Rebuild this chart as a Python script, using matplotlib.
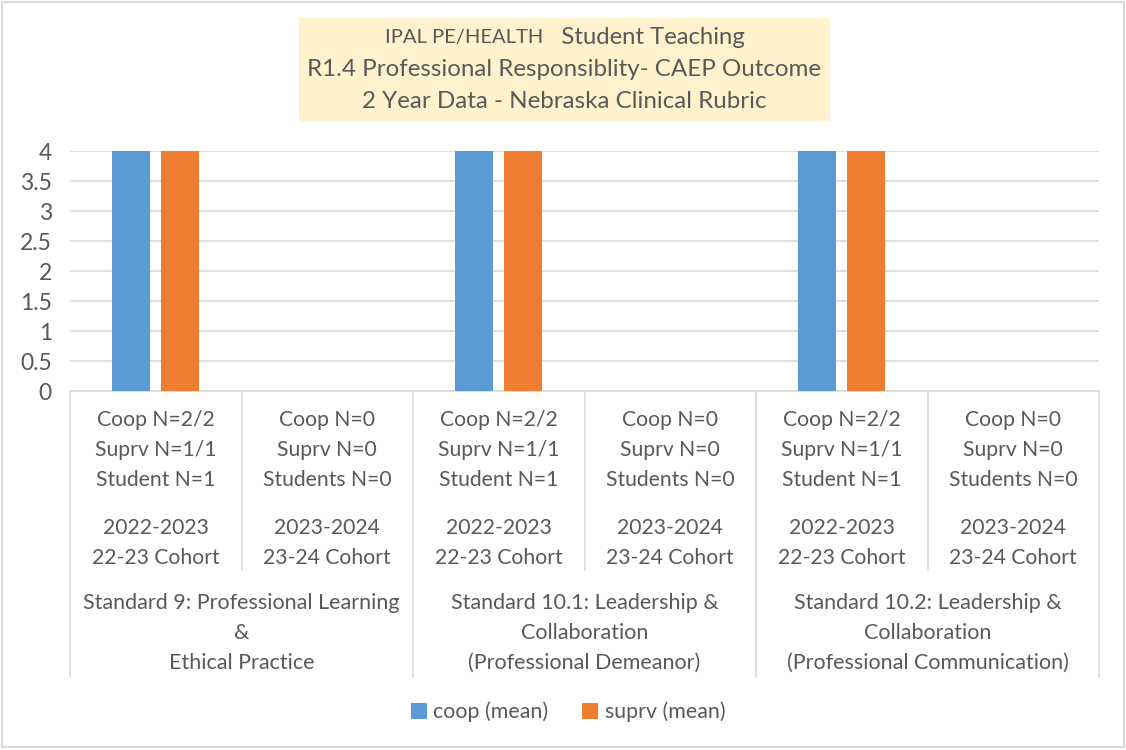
import numpy as np
import matplotlib.pyplot as plt
import matplotlib.transforms as mtransforms
from matplotlib.patches import Rectangle

# valeurs
cohort_labels = ["Coop N=2/2\nSuprv N=1/1\nStudent N=1", "Coop N=0\nSuprv N=0\nStudents N=0"] * 3
year_labels = ["2022-2023\n22-23 Cohort", "2023-2024\n23-24 Cohort"] * 3
standard_labels = [
    "Standard 9: Professional Learning\n&\nEthical Practice",
    "Standard 10.1: Leadership &\nCollaboration\n(Professional Demeanor)",
    "Standard 10.2: Leadership &\nCollaboration\n(Professional Communication)",
]
coop_mean = [4, np.nan, 4, np.nan, 4, np.nan]
suprv_mean = [4, np.nan, 4, np.nan, 4, np.nan]

plt.rcParams['font.family'] = ['Lato', 'DejaVu Sans']
txt = '#595959'
grid = '#D9D9D9'

W, H = 1126, 750
fig = plt.figure(figsize=(W / 100, H / 100), dpi=100)
ax = fig.add_axes([70 / W, 1 - 391 / H, (1099 - 70) / W, 240 / H])

x = np.arange(len(coop_mean))
bw = 0.22
ax.bar(x - 0.143, coop_mean, bw, color='#5B9BD5', label='coop (mean)', zorder=3)
ax.bar(x + 0.143, suprv_mean, bw, color='#ED7D31', label='suprv (mean)', zorder=3)

ax.set_xlim(-0.5, len(x) - 0.5)
ax.set_ylim(0, 4)
ax.set_yticks(np.arange(0, 4.01, 0.5))
ax.set_yticklabels(['0', '0.5', '1', '1.5', '2', '2.5', '3', '3.5', '4'])
ax.yaxis.grid(True, color=grid, linewidth=1.2, zorder=0)
ax.set_xticks([])
ax.tick_params(axis='y', length=0, pad=13, labelsize=16.5, labelcolor=txt)
for s in ['top', 'right', 'left']:
    ax.spines[s].set_visible(False)
ax.spines['bottom'].set_color(grid)
ax.spines['bottom'].set_linewidth(1.2)

# axe des catégories à plusieurs niveaux
tr = mtransforms.blended_transform_factory(ax.transData, fig.transFigure)
for i in range(len(x) + 1):
    b = i - 0.5
    bottom = 677 if i % 2 == 0 else 570
    ax.plot([b, b], [1 - 391 / H, 1 - bottom / H], transform=tr, color=grid,
            linewidth=1.2, clip_on=False)

for i in range(len(x)):
    ax.text(i, 1 - 450 / H, cohort_labels[i], transform=tr, ha='center', va='center',
            fontsize=15.2, color=txt, linespacing=1.6)
    ax.text(i, 1 - 543 / H, year_labels[i], transform=tr, ha='center', va='center',
            fontsize=15.2, color=txt, linespacing=1.6)
for j in range(len(standard_labels)):
    ax.text(2 * j + 0.5, 1 - 633 / H, standard_labels[j], transform=tr, ha='center',
            va='center', fontsize=15.5, color=txt, linespacing=1.62)

# titre dans une boîte jaune
fig.patches.append(Rectangle((299 / W, 1 - 121 / H), 531 / W, 103 / H, transform=fig.transFigure,
                             facecolor='#FFF2CC', edgecolor='none', zorder=0))
fig.text(543 / W, 1 - 38 / H, "IPAL PE/HEALTH", ha='right', va='center', fontsize=14.5, color=txt)
fig.text(543 / W, 1 - 38 / H, "   Student Teaching", ha='left', va='center', fontsize=17.2, color=txt)
fig.text(564 / W, 1 - 70 / H, "R1.4 Professional Responsiblity- CAEP Outcome", ha='center',
         va='center', fontsize=17.4, color=txt)
fig.text(564 / W, 1 - 101 / H, "2 Year Data - Nebraska Clinical Rubric", ha='center',
         va='center', fontsize=17.4, color=txt)

fig.legend(loc='center', bbox_to_anchor=(568 / W, 1 - 712 / H), ncol=2, frameon=False,
           fontsize=15.4, labelcolor=txt, handlelength=0.75, handleheight=0.75,
           handletextpad=0.3, columnspacing=1.6)

# cadre extérieur
fig.patches.append(Rectangle((0.002, 0.004), 0.996, 0.993, transform=fig.transFigure,
                             facecolor='none', edgecolor=grid, linewidth=1.5))

fig.savefig('out.png', dpi=100)
